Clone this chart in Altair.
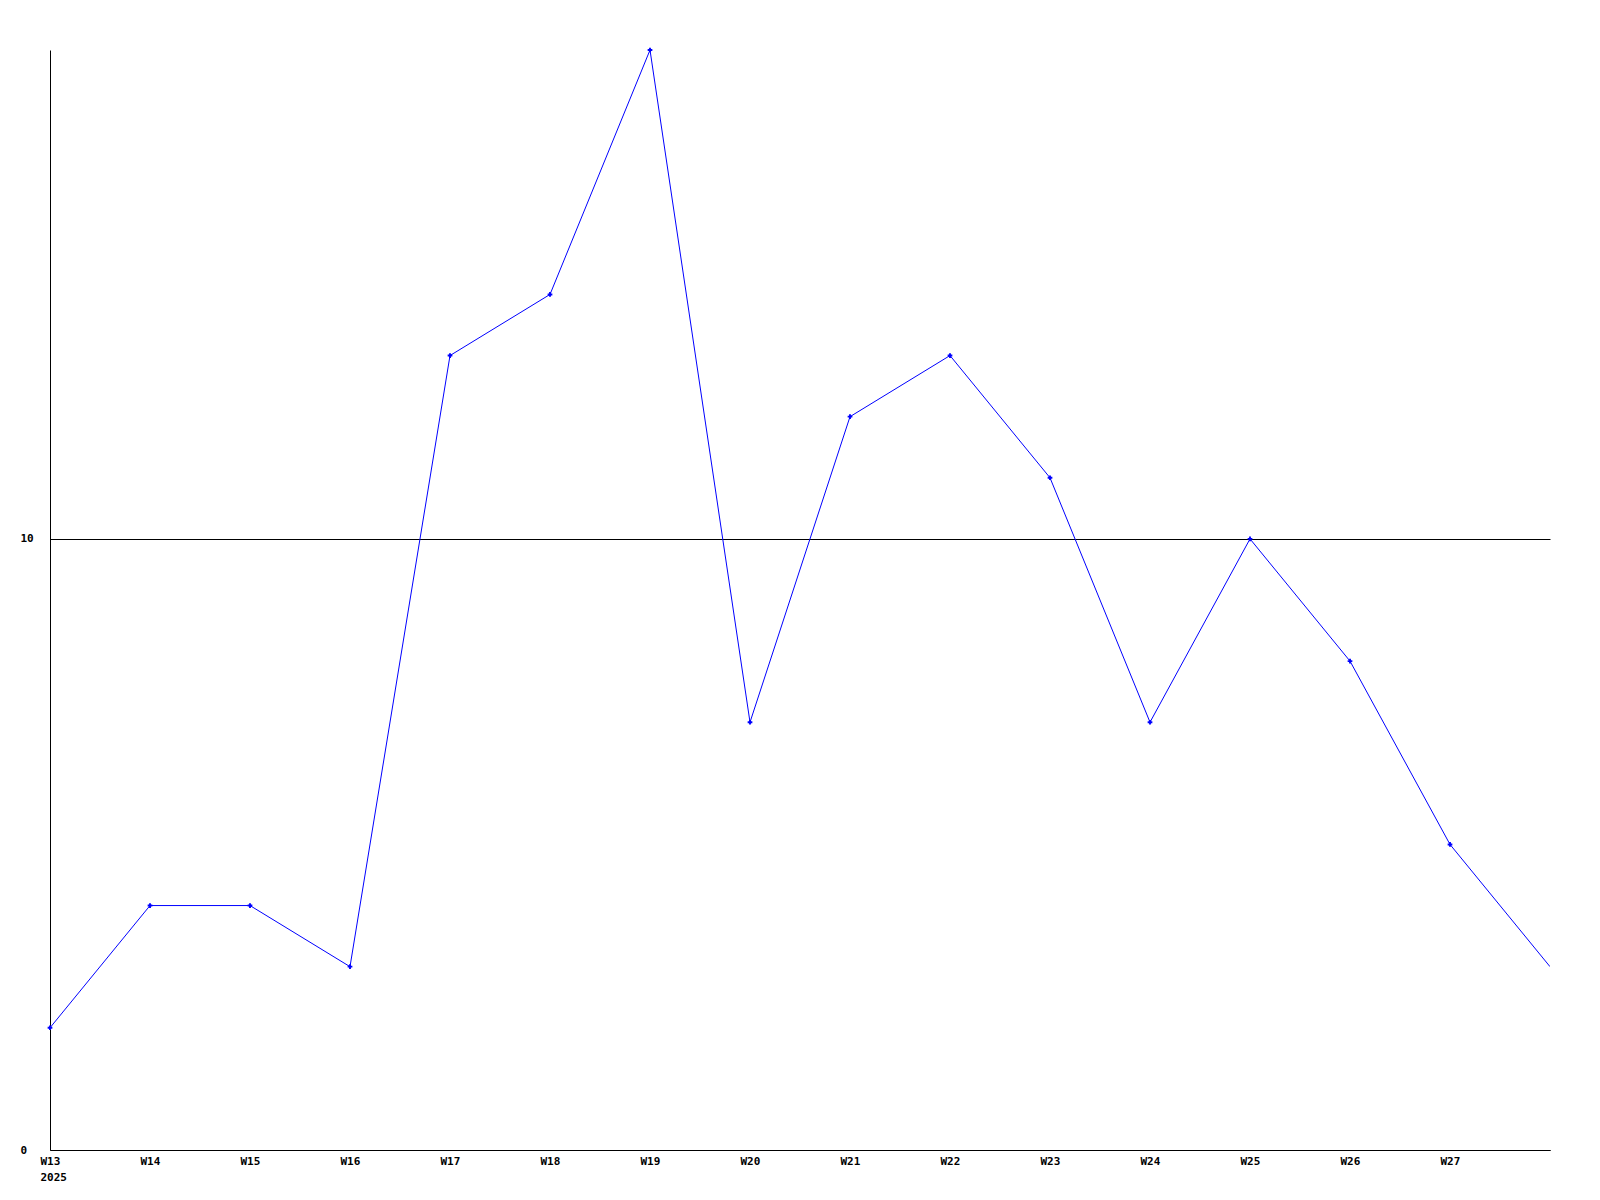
import altair as alt
import pandas as pd

weeks = [13, 14, 15, 16, 17, 18, 19, 20, 21, 22, 23, 24, 25, 26, 27, 28]
values = [2, 4, 4, 3, 13, 14, 18, 7, 12, 13, 11, 7, 10, 8, 5, 3]
tick_weeks = [13, 14, 15, 16, 17, 18, 19, 20, 21, 22, 23, 24, 25, 26, 27]
year_label = "2025"

df = pd.DataFrame({"week": weeks, "value": values})
marker_df = df[df["week"] <= 27]

FONT = "DejaVu Sans Mono"

x_enc = alt.X(
    "week:Q",
    scale=alt.Scale(domain=[13, 28], nice=False, zero=False),
    axis=alt.Axis(
        values=tick_weeks,
        labelExpr=f"datum.value == 13 ? ['W13', '{year_label}'] : 'W' + datum.value",
        title=None,
        grid=False,
        ticks=False,
        domainColor="black",
        domainWidth=1,
        labelFont=FONT,
        labelFontWeight="bold",
        labelFontSize=11,
        labelColor="black",
        labelAlign="left",
        labelOffset=-10,
        labelPadding=5,
        labelLineHeight=16,
        labelOverlap=False,
        labelFlush=False,
    ),
)
y_enc = alt.Y(
    "value:Q",
    scale=alt.Scale(domain=[0, 18], nice=False),
    axis=alt.Axis(
        values=[0, 10],
        format="d",
        title=None,
        grid=True,
        gridColor="black",
        gridWidth=1,
        gridOpacity=1,
        ticks=False,
        domainColor="black",
        domainWidth=1,
        labelFont=FONT,
        labelFontWeight="bold",
        labelFontSize=11,
        labelColor="black",
        labelAlign="left",
        labelBaseline="middle",
        labelPadding=30,
    ),
)

line = alt.Chart(df).mark_line(color="#0000ff", strokeWidth=1, clip=True).encode(x=x_enc, y=y_enc)
pts = alt.Chart(marker_df).mark_point(
    shape="cross", filled=True, color="#0000ff", size=22, opacity=1
).encode(x=x_enc, y=y_enc)

chart = (
    alt.layer(line, pts)
    .properties(
        width=1500,
        height=1100,
        background="white",
        autosize=alt.AutoSizeParams(type="none"),
        padding={"left": 42, "top": 42, "right": 42, "bottom": 42},
    )
    .configure_view(stroke="transparent", strokeWidth=0)
)

chart.save("out.html", embed_options={"renderer": "svg", "actions": False})
